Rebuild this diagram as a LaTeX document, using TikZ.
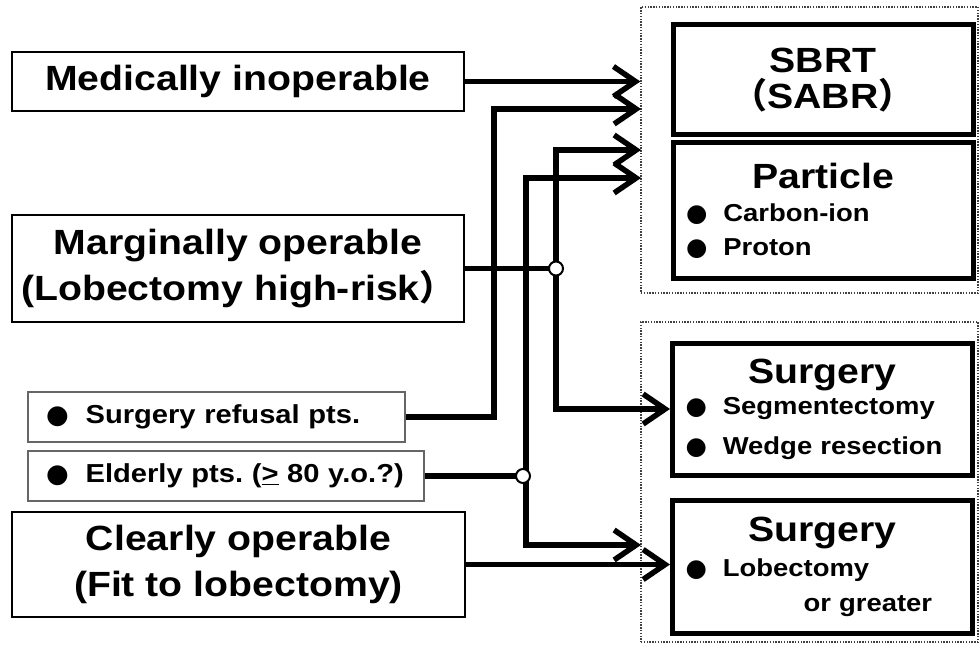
\documentclass[tikz,border=0pt]{standalone}
\usepackage{fontspec}
\setmainfont{Liberation Sans}[FakeStretch=1.12]
\newfontfamily\cjk{Noto Sans CJK JP}
\newfontfamily\sym{DejaVu Sans}
\usetikzlibrary{arrows.meta}

\newcommand\bigtxt{\fontsize{35}{46}\selectfont}
\newcommand\ttltxt{\fontsize{35}{36}\selectfont}
\newcommand\itmtxt{\fontsize{24.5}{35}\selectfont}
\newcommand\smltxt{\fontsize{26}{30}\selectfont}
\newcommand\dotitem{{\sym ●}\hspace{0.65em}}

\tikzset{
  >={Straight Barb[length=22pt,width=30pt]},
  inbox/.style={draw, line width=2.6pt, minimum width=452, align=center, font=\bfseries\bigtxt},
  smbox/.style={draw=black!60, line width=1.6pt, minimum height=50, inner xsep=18pt, align=left, font=\bfseries\smltxt},
  outbox/.style={draw, line width=5pt, minimum width=300, text width=274, inner xsep=13pt, align=left, font=\bfseries\itmtxt},
  grpbox/.style={draw=black!75, line width=1.3pt, dash pattern=on 1.4pt off 1.4pt, inner sep=0},
  conn/.style={line width=5.5pt},
  junc/.style={circle, draw, fill=white, line width=2pt, inner sep=0, minimum size=14}
}

\begin{document}
\begin{tikzpicture}[x=1pt,y=-1pt]
\useasboundingbox (0,0) rectangle (979,652);

% treatment groups
\node[grpbox, minimum width=337, minimum height=286] (grp1) at (809.5,150) {};
\node[grpbox, minimum width=337, minimum height=320] (grp2) at (809.5,482) {};

% patients
\node[inbox, minimum height=59] (medinop) at (238,81.5) {Medically inoperable};
\node[inbox, minimum height=107] (margop) at (238,268.5) {Marginally operable\\(Lobectomy high-risk{\cjk ）}};
\node[smbox, text width=341] (refusal) at (216.5,417) {\mbox{\dotitem Surgery refusal pts.}};
\node[smbox, text width=360] (elderly) at (226,476) {\mbox{\dotitem Elderly pts.\ (\underline{>} 80 y.o.?)}};
\node[inbox, minimum width=453, minimum height=105] (clearop) at (238.5,564.5) {Clearly operable\\(Fit to lobectomy)};

% treatments
\node[outbox, align=center, font=\bfseries\ttltxt, minimum height=110] (sbrt) at (823,80) {SBRT\\{\cjk （}SABR{\cjk ）}};
\node[outbox, minimum height=135] (particle) at (823,210.5) {\makebox[\linewidth]{\ttltxt Particle}\\[-2pt] \mbox{\dotitem Carbon-ion}\\[-1pt] \mbox{\dotitem Proton}};
\node[outbox, minimum height=132] (segm) at (822.5,409) {\makebox[\linewidth]{\ttltxt Surgery}\\[-4pt] \mbox{\dotitem Segmentectomy}\\[5pt] \mbox{\dotitem Wedge resection}};
\node[outbox, minimum height=133] (lobect) at (822.5,566.5) {\makebox[\linewidth]{\ttltxt Surgery}\\ \mbox{\dotitem Lobectomy}\\ \hspace*{118pt}or greater};

\coordinate (t2) at (641,109);
\coordinate (t3) at (641,150);
\coordinate (t4) at (641,178);
\coordinate (t5) at (641,545);
\coordinate (c1) at (494,0);
\coordinate (c2) at (526,0);
\coordinate (c3) at (556,0);

% connectors
\draw[conn,->] (medinop.east) -- (medinop.east -| grp1.west);
\draw[conn,->] (refusal.east) -| (c1 |- t2) -- (t2);
\draw[conn,<->] (t4) -| (c2 |- t5) -- (t5);
\draw[conn,<->] (t3) -| (c3 |- segm.west) -- (segm.west);
\draw[conn] (margop.east) -- (c3 |- margop.east);
\draw[conn] (elderly.east) -- (c2 |- elderly.east);
\draw[conn,->] (clearop.east) -- (clearop.east -| lobect.west);
\node[junc] (j1) at (c3 |- margop.east) {};
\node[junc] (j2) at ([xshift=-3pt]c2 |- elderly.east) {};

\end{tikzpicture}
\end{document}
